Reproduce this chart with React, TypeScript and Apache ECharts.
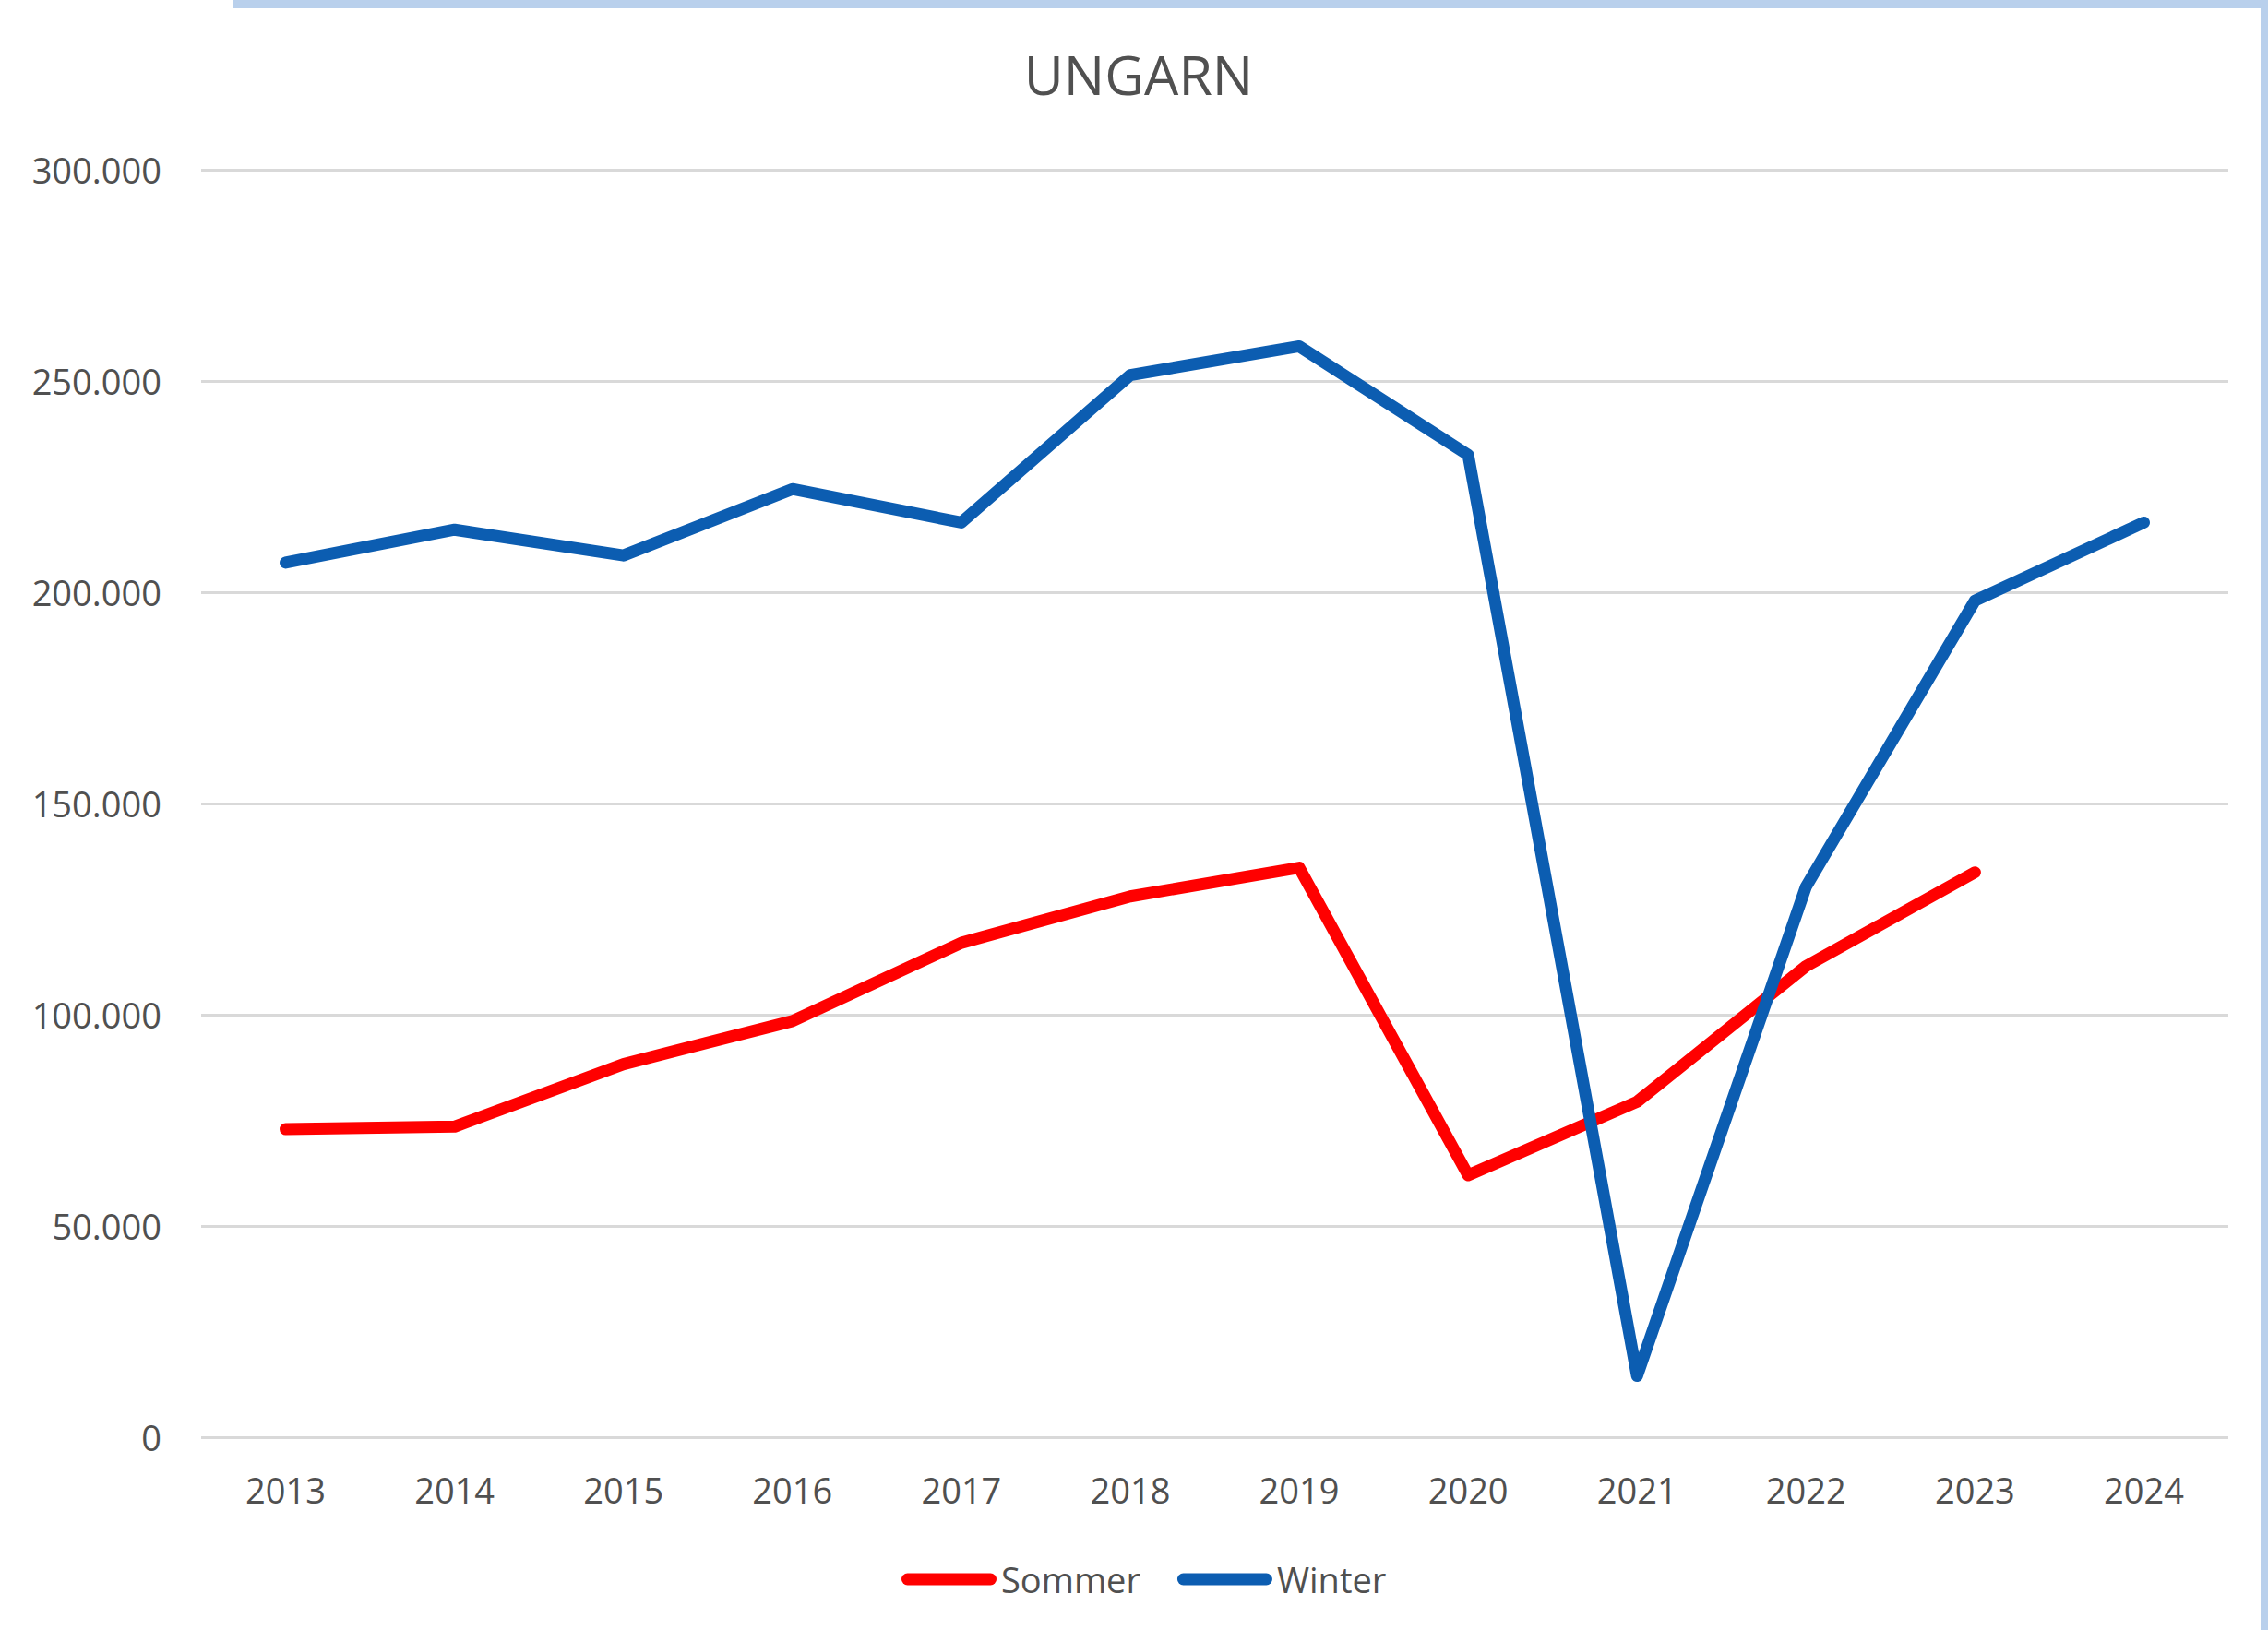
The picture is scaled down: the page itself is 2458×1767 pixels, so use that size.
import React, { useEffect, useRef } from 'react';
import * as echarts from 'echarts';

const years = ['2013', '2014', '2015', '2016', '2017', '2018', '2019', '2020', '2021', '2022', '2023', '2024'];
const sommer: (number | null)[] = [72900, 73500, 88300, 98500, 117000, 128000, 134800, 62000, 79400, 111500, 133700, null];
const winter: number[] = [207000, 214800, 208700, 224400, 216500, 251400, 258200, 232500, 14500, 130300, 198000, 216500];
const yMin = 0;
const yMax = 300000;
const yStep = 50000;
const titleText = 'UNGARN';

const FONT = 'Open Sans';
const TEXT = '#505050';

function fmt(v: number): string {
  return String(Math.round(v)).replace(/\B(?=(\d{3})+(?!\d))/g, '.');
}

export default function App() {
  const ref = useRef<HTMLDivElement>(null);
  useEffect(() => {
    document.body.style.margin = '0';
    if (!ref.current) return;
    const chart = echarts.init(ref.current, undefined, { renderer: 'svg' });
    const capsule = 'path://M6.5,0 H96.5 A6.5,6.5 0 0 1 96.5,13 H6.5 A6.5,6.5 0 0 1 6.5,0 Z';
    chart.setOption({
      animation: false,
      backgroundColor: '#ffffff',
      graphic: [
        { type: 'rect', shape: { x: 252, y: 0, width: 2206, height: 9 }, style: { fill: '#B9D0EC' } },
        { type: 'rect', shape: { x: 2450, y: 0, width: 8, height: 1767 }, style: { fill: '#B9D0EC' } },
        {
          type: 'text',
          x: 1234,
          y: 50,
          style: {
            text: titleText,
            fontFamily: FONT,
            fontSize: 59,
            fontWeight: 'normal',
            fill: TEXT,
            textAlign: 'center',
            textVerticalAlign: 'top',
          },
        },
      ],
      legend: {
        left: 972,
        top: 1688,
        itemWidth: 103,
        itemHeight: 13,
        itemGap: 40,
        textStyle: { fontFamily: FONT, fontSize: 38, color: TEXT },
        data: [
          { name: 'Sommer', icon: capsule, itemStyle: { color: '#FF0000' } },
          { name: 'Winter', icon: capsule, itemStyle: { color: '#0C5DB1' } },
        ],
      },
      grid: { left: 218, right: 43, top: 184, bottom: 209, containLabel: false },
      xAxis: {
        type: 'category',
        data: years,
        boundaryGap: true,
        axisLine: { show: false },
        axisTick: { show: false },
        axisLabel: { fontFamily: FONT, fontSize: 38, color: TEXT, margin: 38 },
      },
      yAxis: {
        type: 'value',
        min: yMin,
        max: yMax,
        interval: yStep,
        axisLine: { show: false },
        axisTick: { show: false },
        axisLabel: { fontFamily: FONT, fontSize: 38, color: TEXT, margin: 43, formatter: (v: number) => fmt(v) },
        splitLine: { lineStyle: { color: '#D9D9D9', width: 3 } },
      },
      series: [
        {
          name: 'Sommer',
          type: 'line',
          data: sommer,
          symbol: 'none',
          color: '#FF0000',
          lineStyle: { color: '#FF0000', width: 13, cap: 'round', join: 'round' },
        },
        {
          name: 'Winter',
          type: 'line',
          data: winter,
          symbol: 'none',
          color: '#0C5DB1',
          lineStyle: { color: '#0C5DB1', width: 13, cap: 'round', join: 'round' },
        },
      ],
    });
    return () => chart.dispose();
  }, []);
  return <div ref={ref} style={{ position: 'absolute', left: 0, top: 0, width: 2458, height: 1767 }} />;
}
